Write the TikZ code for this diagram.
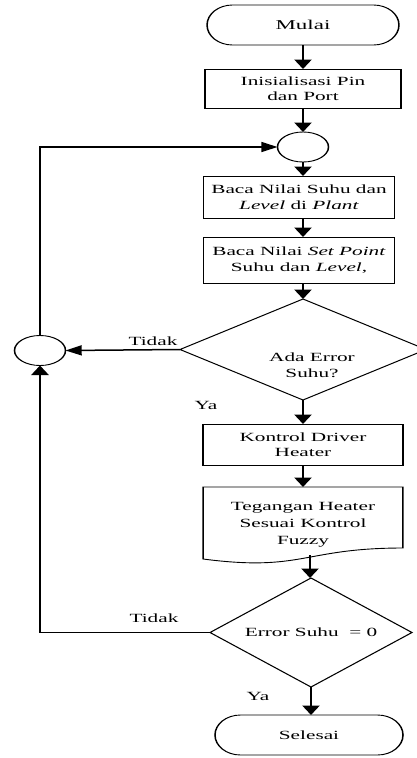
\documentclass[tikz,border=0pt]{standalone}
\usepackage{fontspec}
\setmainfont{Liberation Serif}
\usetikzlibrary{arrows.meta,shapes.geometric}
\begin{document}
\begin{tikzpicture}
\useasboundingbox (0,0) rectangle (417pt,-758pt);
\clip (0,0) rectangle (417pt,-758pt);
\begin{scope}[x=0.588235pt, y=-1pt, transform canvas={xscale=1.7},
  every node/.style={font=\fontsize{12.5}{15.5}\selectfont, inner sep=0pt, outer sep=0pt},
  proc/.style={draw, line width=0.9pt, rectangle, align=center},
  conn/.style={draw, line width=0.9pt, circle, minimum size=30pt},
  dia/.style={draw, line width=0.9pt, diamond, align=center},
  termtext/.style={align=center, minimum height=40pt},
  outline/.style={draw, line width=0.9pt},
  lbl/.style={align=center},
  ln/.style={line width=1.5pt},
  arr/.style={line width=1.5pt, -{Triangle[length=9.5pt,width=10pt]}}]

% terminator Mulai
\node[termtext, minimum width=112.9pt, font=\fontsize{13.5}{15.5}\selectfont] (mulai) at (303,25) {Mulai};
\draw[outline] ([xshift=15pt]mulai.north west) -- ([xshift=-15pt]mulai.north east)
  arc[start angle=90, end angle=-90, x radius=15pt, y radius=20pt]
  -- ([xshift=15pt]mulai.south west)
  arc[start angle=270, end angle=90, x radius=15pt, y radius=20pt] -- cycle;

\node[proc, minimum width=115.3pt, minimum height=39pt] (init) at (303,88.5) {Inisialisasi Pin\\dan Port};
\node[conn] (tc) at (303,147) {};
\node[proc, minimum width=112.4pt, minimum height=42pt] (baca1) at (299,197) {Baca Nilai Suhu dan\\\textit{Level} di \textit{Plant}};
\node[proc, minimum width=112.4pt, minimum height=46pt] (baca2) at (299,260) {Baca Nilai \textit{Set Point}\\Suhu dan \textit{Level},};
\node[dia, minimum width=144.7pt, minimum height=101pt] (d1) at (303,349.5) {};
\node[lbl] (t1) at (312,365) {Ada Error\\Suhu?};
\node[conn] (lc) at (40,350.5) {};
\node[proc, minimum width=117.6pt, minimum height=41pt] (ctrl) at (303,444.5) {Kontrol Driver\\Heater};

% document shape
\node[align=center, minimum width=117.6pt, minimum height=76pt, font=\fontsize{12.5}{17}\selectfont] (doc) at (303,525) {Tegangan Heater\\Sesuai Kontrol\\Fuzzy};
\draw[outline] (doc.north west) -- (doc.north east) -- ([yshift=15pt]doc.south east)
  .. controls ([yshift=15pt]doc.south) and ([yshift=-9pt]doc.south) .. ([yshift=4pt]doc.south west) -- cycle;
\coordinate (docb) at (310,555);

\node[dia, minimum width=118.8pt, minimum height=109pt] (d2) at (311,632.5) {Error Suhu\ \ = 0};

% terminator Selesai
\node[termtext, minimum width=110.6pt] (sel) at (309,735) {Selesai};
\draw[outline] ([xshift=15pt]sel.north west) -- ([xshift=-15pt]sel.north east)
  arc[start angle=90, end angle=-90, x radius=15pt, y radius=20pt]
  -- ([xshift=15pt]sel.south west)
  arc[start angle=270, end angle=90, x radius=15pt, y radius=20pt] -- cycle;

% labels
\node[lbl] (ty1) at (153,341) {Tidak};
\node[lbl] (ya1) at (206,405.5) {Ya};
\node[lbl] (ty2) at (154,618.5) {Tidak};
\node[lbl] (ya2) at (258,696) {Ya};

% connectors
\draw[arr] (mulai.south) -- (init.north);
\draw[arr] (init.south) -- (tc.north);
\draw[arr] (tc.south) -- (tc.south |- baca1.north);
\draw[arr] (tc.south |- baca1.south) -- (tc.south |- baca2.north);
\draw[arr] (tc.south |- baca2.south) -- (d1.north);
\draw[arr] (d1.west) -- (lc.east);
\draw[arr] (lc.north) |- (tc.west);
\draw[arr] (d1.south) -- (ctrl.north);
\draw[arr] (ctrl.south) -- (doc.north);
\draw[arr] (docb) -- (docb |- d2.north);
\draw[arr] (d2.west) -| (lc.south);
\draw[arr] (d2.south) -- (d2.south |- sel.north);
\end{scope}
\end{tikzpicture}
\end{document}
